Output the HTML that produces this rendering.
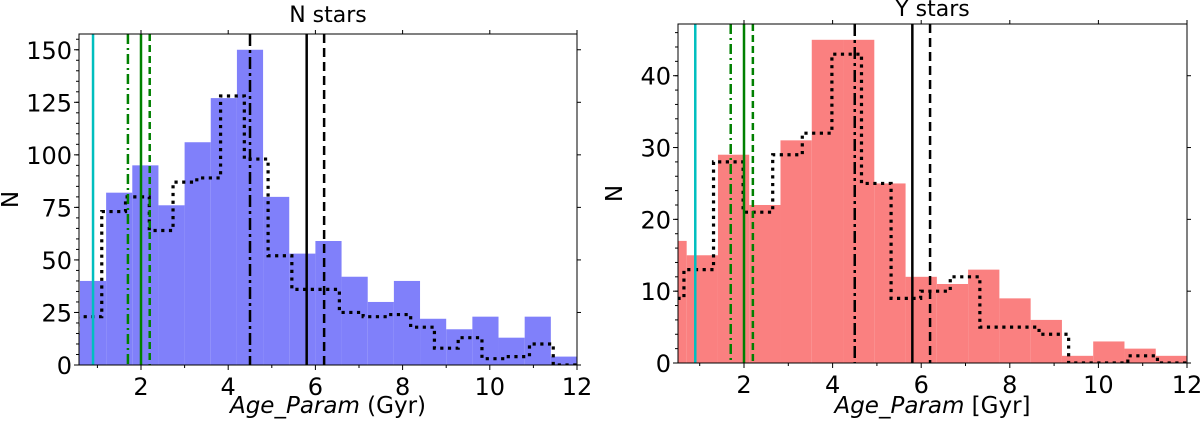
<!DOCTYPE html>
<html><head><meta charset="utf-8">
<style>
html,body{margin:0;padding:0;background:#fff;}
svg text{font-family:"DejaVu Sans","Liberation Sans",sans-serif;fill:#000;}
</style></head>
<body>
<svg id="fig" width="1200" height="423" viewBox="0 0 1200 423" xmlns="http://www.w3.org/2000/svg"></svg>
<script>
// ---- Left panel (N stars) data ----
const nBinStart = 0.0;
const nBinWidth = 0.6;
const nCounts = [15,40,82,95,76,106,127,150,80,53,59,42,30,40,22,17,23,13,23,4];
const nRefStart = 0.01;
const nRefWidth = 0.545;
const nRefCounts = [15,23,73,80,64,87,89,128,98,52,36,36,25,23,24,18,8,13,3,4,10,0];
const nYTicks = [0,25,50,75,100,125,150];
// ---- Right panel (Y stars) data ----
const yBinStart = 0.0;
const yBinWidth = 0.7059;
const yCounts = [17,15,29,22,31,45,45,25,12,11,13,9,6,1,3,2,1];
const yRefStart = -0.024;
const yRefWidth = 0.668;
const yRefCounts = [9,13,28,21,29,32,43,25,9,10,12,5,5,4,0,0,1,0];
const yYTicks = [0,10,20,30,40];
// ---- shared ----
const xTicks = [2,4,6,8,10,12];
const vlineX = [0.9,1.7,2.0,2.2,4.5,5.8,6.2];
const vlineColor = ['#00bfbf','green','green','green','black','black','black'];
const vlineDash = ['', '10,4,2,4', '', '7,4', '12,4,3,4', '', '9,5'];
const vlineName = ['cyan-line','green-dashdot-line','green-solid-line','green-dashed-line','black-dashdot-line','black-solid-line','black-dashed-line'];

const NS='http://www.w3.org/2000/svg';
const svg=document.getElementById('fig');
function mk(tag,attrs,parent){const e=document.createElementNS(NS,tag);for(const k in attrs)e.setAttribute(k,attrs[k]);(parent||svg).appendChild(e);return e;}

function panel(cfg){
  const g=mk('g',{});
  
  
  const L=cfg.L,R=cfg.R,T=cfg.T,B=cfg.B;
  const sx=v=>L+(v-cfg.xmin)/(cfg.xmax-cfg.xmin)*(R-L);
  const sy=v=>B-(v-0)/(cfg.ymax)*(B-T);
  const clip='clip-'+cfg.name;
  const cp=mk('clipPath',{id:clip},g);
  mk('rect',{x:L,y:T,width:R-L,height:B-T},cp);
  const plot=mk('g',{'clip-path':'url(#'+clip+')'},g);
  cfg.counts.forEach((c,i)=>{
    const x0=sx(cfg.bs+i*cfg.bw),x1=sx(cfg.bs+(i+1)*cfg.bw);
    const r=mk('rect',{x:x0,y:sy(c),width:x1-x0,height:sy(0)-sy(c),fill:cfg.fill},plot);
    
    
  });
  let d='';
  cfg.ref.forEach((c,i)=>{
    const x0=sx(cfg.rs+i*cfg.rw),x1=sx(cfg.rs+(i+1)*cfg.rw);
    d+=(i===0?'M':'L')+x0+','+sy(c)+'L'+x1+','+sy(c);
  });
  const p=mk('path',{d:d,fill:'none',stroke:'#000','stroke-width':3.2,'stroke-dasharray':'3.2,4.5'},plot);
  
  
  vlineX.forEach((v,i)=>{
    const ln=mk('line',{x1:sx(v),x2:sx(v),y1:T,y2:B,stroke:vlineColor[i],'stroke-width':2.5,'stroke-dasharray':vlineDash[i]},plot);
    
    
  });
  const fr=mk('rect',{x:L,y:T,width:R-L,height:B-T,fill:'none',stroke:'#000','stroke-width':1},g);
  
  
  xTicks.forEach(v=>{
    const x=sx(v);
    mk('line',{x1:x,x2:x,y1:B,y2:B+5,stroke:'#000'},g);
    mk('line',{x1:x,x2:x,y1:T,y2:T-4,stroke:'#000'},g);
    const t=mk('text',{x:x,y:B+30,'font-size':24,'text-anchor':'middle'},g);
    t.textContent=v;
    
    
  });
  for(let v=1;v<12;v+=2){const x=sx(v);if(x>L)mk('line',{x1:x,x2:x,y1:B,y2:B+3,stroke:'#000'},g);}
  cfg.yt.forEach(v=>{
    const y=sy(v);
    mk('line',{x1:L,x2:L-5,y1:y,y2:y,stroke:'#000'},g);
    mk('line',{x1:R,x2:R+4,y1:y,y2:y,stroke:'#000'},g);
    const t=mk('text',{x:L-7,y:y+9,'font-size':24,'text-anchor':'end'},g);
    t.textContent=v;
    
    
  });
  for(let v=0;v<=cfg.ymax;v+=cfg.minor){const y=sy(v);mk('line',{x1:L,x2:L-3,y1:y,y2:y,stroke:'#000'},g);}
  const tt=mk('text',{x:(L+R)/2,y:cfg.titleY,'font-size':22,'text-anchor':'middle'},g);
  tt.textContent=cfg.title;
  
  
  const xl=mk('text',{x:(L+R)/2,y:413,'font-size':23,'text-anchor':'middle'},g);
  
  
  const i1=mk('tspan',{'font-style':'italic'},xl);i1.textContent='Age_Param';
  const i2=mk('tspan',{},xl);i2.textContent=' '+cfg.unit;
  const yl=mk('text',{x:cfg.ylX,y:(T+B)/2,'font-size':23,'text-anchor':'middle',transform:'rotate(-90 '+cfg.ylX+' '+((T+B)/2)+')'},g);
  yl.textContent='N';
  
  
}
panel({name:'n-stars-panel',L:79,R:577,T:34,B:365,xmin:0.578,xmax:12,ymax:157.5,
  counts:nCounts,bs:nBinStart,bw:nBinWidth,ref:nRefCounts,rs:nRefStart,rw:nRefWidth,
  fill:'#8080fa',yt:nYTicks,minor:5,title:'N stars',titleY:22,unit:'(Gyr)',ylX:18});
panel({name:'y-stars-panel',L:678,R:1187,T:24,B:363,xmin:0.51,xmax:12,ymax:47.2,
  counts:yCounts,bs:yBinStart,bw:yBinWidth,ref:yRefCounts,rs:yRefStart,rw:yRefWidth,
  fill:'#fa8080',yt:yYTicks,minor:2,title:'Y stars',titleY:16,unit:'[Gyr]',ylX:622});
</script>
</body></html>
